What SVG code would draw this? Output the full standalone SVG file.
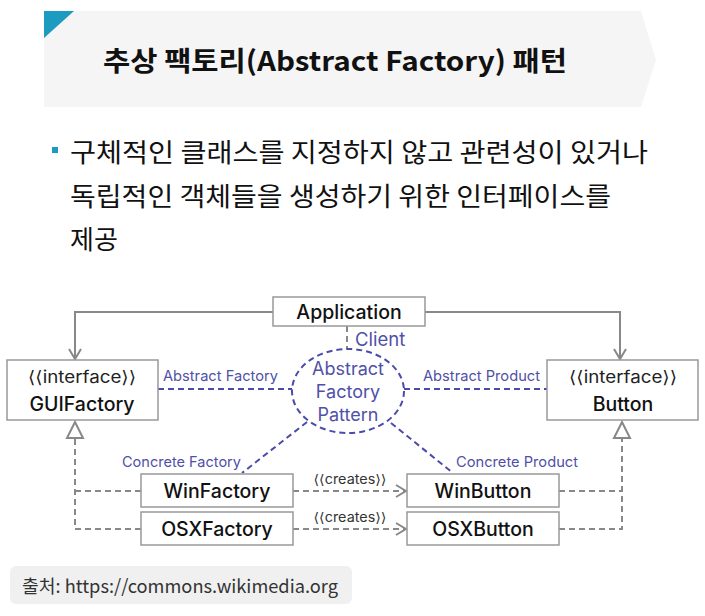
<svg xmlns="http://www.w3.org/2000/svg" width="705" height="616" viewBox="0 0 705 616">
  <style>
    .kr { font-family: "Noto Sans CJK KR", "Noto Sans", sans-serif; fill: #111; }
    .box { fill: #fff; stroke: #999; stroke-width: 1.5; }
    .name { font-family: "Inter", "Noto Sans", sans-serif; font-size: 19.5px; font-weight: 500; fill: #111; text-anchor: middle; }
    .stereo { font-family: "Inter", "DejaVu Sans", sans-serif; font-size: 17px; fill: #222; text-anchor: middle; }
    .role { font-family: "Inter", "Noto Sans", sans-serif; font-size: 14.5px; fill: #5050a8; }
    .pattern { font-family: "Inter", "Noto Sans", sans-serif; font-size: 18px; fill: #5050a8; text-anchor: middle; }
    .assoc { fill: none; stroke: #888; stroke-width: 2; }
    .dep { fill: none; stroke: #888; stroke-width: 2; stroke-dasharray: 6 4; }
    .role-line { fill: none; stroke: #4b4bac; stroke-width: 2; stroke-dasharray: 6 4; }
    .gen { fill: #fff; stroke: #888; stroke-width: 2; }
    .creates { font-family: "Inter", "DejaVu Sans", sans-serif; font-size: 13.5px; fill: #333; text-anchor: middle; }
  </style>
  <defs>
    <marker id="open-arrow" markerUnits="userSpaceOnUse" markerWidth="14" markerHeight="16" refX="11" refY="7" orient="auto" viewBox="0 0 14 16">
      <path d="M1,1 L11,7 L1,13" fill="none" stroke="#888" stroke-width="2"/>
    </marker>
  </defs>

  <!-- slide header -->
  <g id="header">
    <polygon points="44,11 641,11 656,60 641,107 44,107" fill="#f5f5f5"/>
    <polygon points="44,11 74,11 44,38" fill="#1a9bbf"/>
    <text class="kr" x="103" y="71" font-size="27" font-weight="bold" textLength="464" lengthAdjust="spacingAndGlyphs">추상 팩토리(Abstract Factory) 패턴</text>
  </g>

  <!-- bullet text -->
  <g id="bullet">
    <rect x="52" y="147" width="6" height="6" fill="#1a9bbf"/>
    <text class="kr" x="70" y="162" font-size="26" textLength="578" lengthAdjust="spacingAndGlyphs">구체적인 클래스를 지정하지 않고 관련성이 있거나</text>
    <text class="kr" x="70" y="206" font-size="26" textLength="541" lengthAdjust="spacingAndGlyphs">독립적인 객체들을 생성하기 위한 인터페이스를</text>
    <text class="kr" x="70" y="249" font-size="26">제공</text>
  </g>

  <!-- connectors -->
  <g id="connectors">
    <polyline class="assoc" points="273,312 75,312 75,359" marker-end="url(#open-arrow)"/>
    <polyline class="assoc" points="425,312 620,312 620,359" marker-end="url(#open-arrow)"/>
    <line class="dep" x1="347" y1="326" x2="347" y2="349" stroke-dasharray="5 3"/>
    <line class="role-line" x1="158" y1="389" x2="292" y2="389"/>
    <line class="role-line" x1="404" y1="389" x2="547" y2="389"/>
    <line class="role-line" x1="307" y1="422" x2="242" y2="473"/>
    <line class="role-line" x1="391" y1="423" x2="453" y2="473"/>
    <line class="dep" x1="293" y1="491" x2="406" y2="491" marker-end="url(#open-arrow)"/>
    <line class="dep" x1="293" y1="529" x2="406" y2="529" marker-end="url(#open-arrow)"/>
    <polyline class="dep" points="141,491 75,491"/>
    <polyline class="dep" points="141,529 75,529 75,438"/>
    <polyline class="dep" points="559,491 622,491"/>
    <polyline class="dep" points="559,529 622,529 622,438"/>
    <polygon class="gen" points="75,422 67,438 83,438"/>
    <polygon class="gen" points="622,422 614,438 630,438"/>
  </g>

  <!-- labels on connectors -->
  <g id="labels">
    <text class="role" x="355" y="346" style="font-size:18.5px">Client</text>
    <text class="role" x="163" y="381" textLength="115" lengthAdjust="spacingAndGlyphs">Abstract Factory</text>
    <text class="role" x="423" y="381" textLength="117" lengthAdjust="spacingAndGlyphs">Abstract Product</text>
    <text class="role" x="122" y="467" textLength="119" lengthAdjust="spacingAndGlyphs">Concrete Factory</text>
    <text class="role" x="456" y="467" textLength="122" lengthAdjust="spacingAndGlyphs">Concrete Product</text>
    <text class="creates" x="350" y="484" textLength="73" lengthAdjust="spacingAndGlyphs">⟨⟨creates⟩⟩</text>
    <text class="creates" x="350" y="522" textLength="73" lengthAdjust="spacingAndGlyphs">⟨⟨creates⟩⟩</text>
  </g>

  <g id="application">
    <rect class="box" x="273" y="297" width="152" height="29"/>
    <text class="name" x="349" y="319">Application</text>
  </g>

  <g id="pattern">
    <ellipse cx="348" cy="391" rx="56" ry="42" fill="none" stroke="#4b4bac" stroke-width="2" stroke-dasharray="6 4"/>
    <text class="pattern" x="348" y="375">Abstract</text>
    <text class="pattern" x="348" y="398">Factory</text>
    <text class="pattern" x="348" y="421">Pattern</text>
  </g>

  <g id="gui-factory">
    <rect class="box" x="7" y="360" width="151" height="60"/>
    <text class="stereo" x="82" y="383" textLength="108" lengthAdjust="spacingAndGlyphs">⟨⟨interface⟩⟩</text>
    <text class="name" x="82" y="411">GUIFactory</text>
  </g>

  <g id="button">
    <rect class="box" x="547" y="360" width="151" height="60"/>
    <text class="stereo" x="623" y="383" textLength="108" lengthAdjust="spacingAndGlyphs">⟨⟨interface⟩⟩</text>
    <text class="name" x="623" y="411">Button</text>
  </g>

  <g id="win-factory">
    <rect class="box" x="141" y="474" width="152" height="33"/>
    <text class="name" x="217" y="498">WinFactory</text>
  </g>

  <g id="osx-factory">
    <rect class="box" x="141" y="512" width="152" height="33"/>
    <text class="name" x="217" y="536">OSXFactory</text>
  </g>

  <g id="win-button">
    <rect class="box" x="407" y="474" width="152" height="33"/>
    <text class="name" x="483" y="498">WinButton</text>
  </g>

  <g id="osx-button">
    <rect class="box" x="407" y="512" width="152" height="33"/>
    <text class="name" x="483" y="536">OSXButton</text>
  </g>

  <!-- source note -->
  <g id="source">
    <rect x="10" y="566" width="342" height="38" rx="6" fill="#f0f0f0"/>
    <text class="kr" x="22" y="593" font-size="18.5" style="fill:#333" textLength="316" lengthAdjust="spacingAndGlyphs">출처: https://commons.wikimedia.org</text>
  </g>
</svg>
